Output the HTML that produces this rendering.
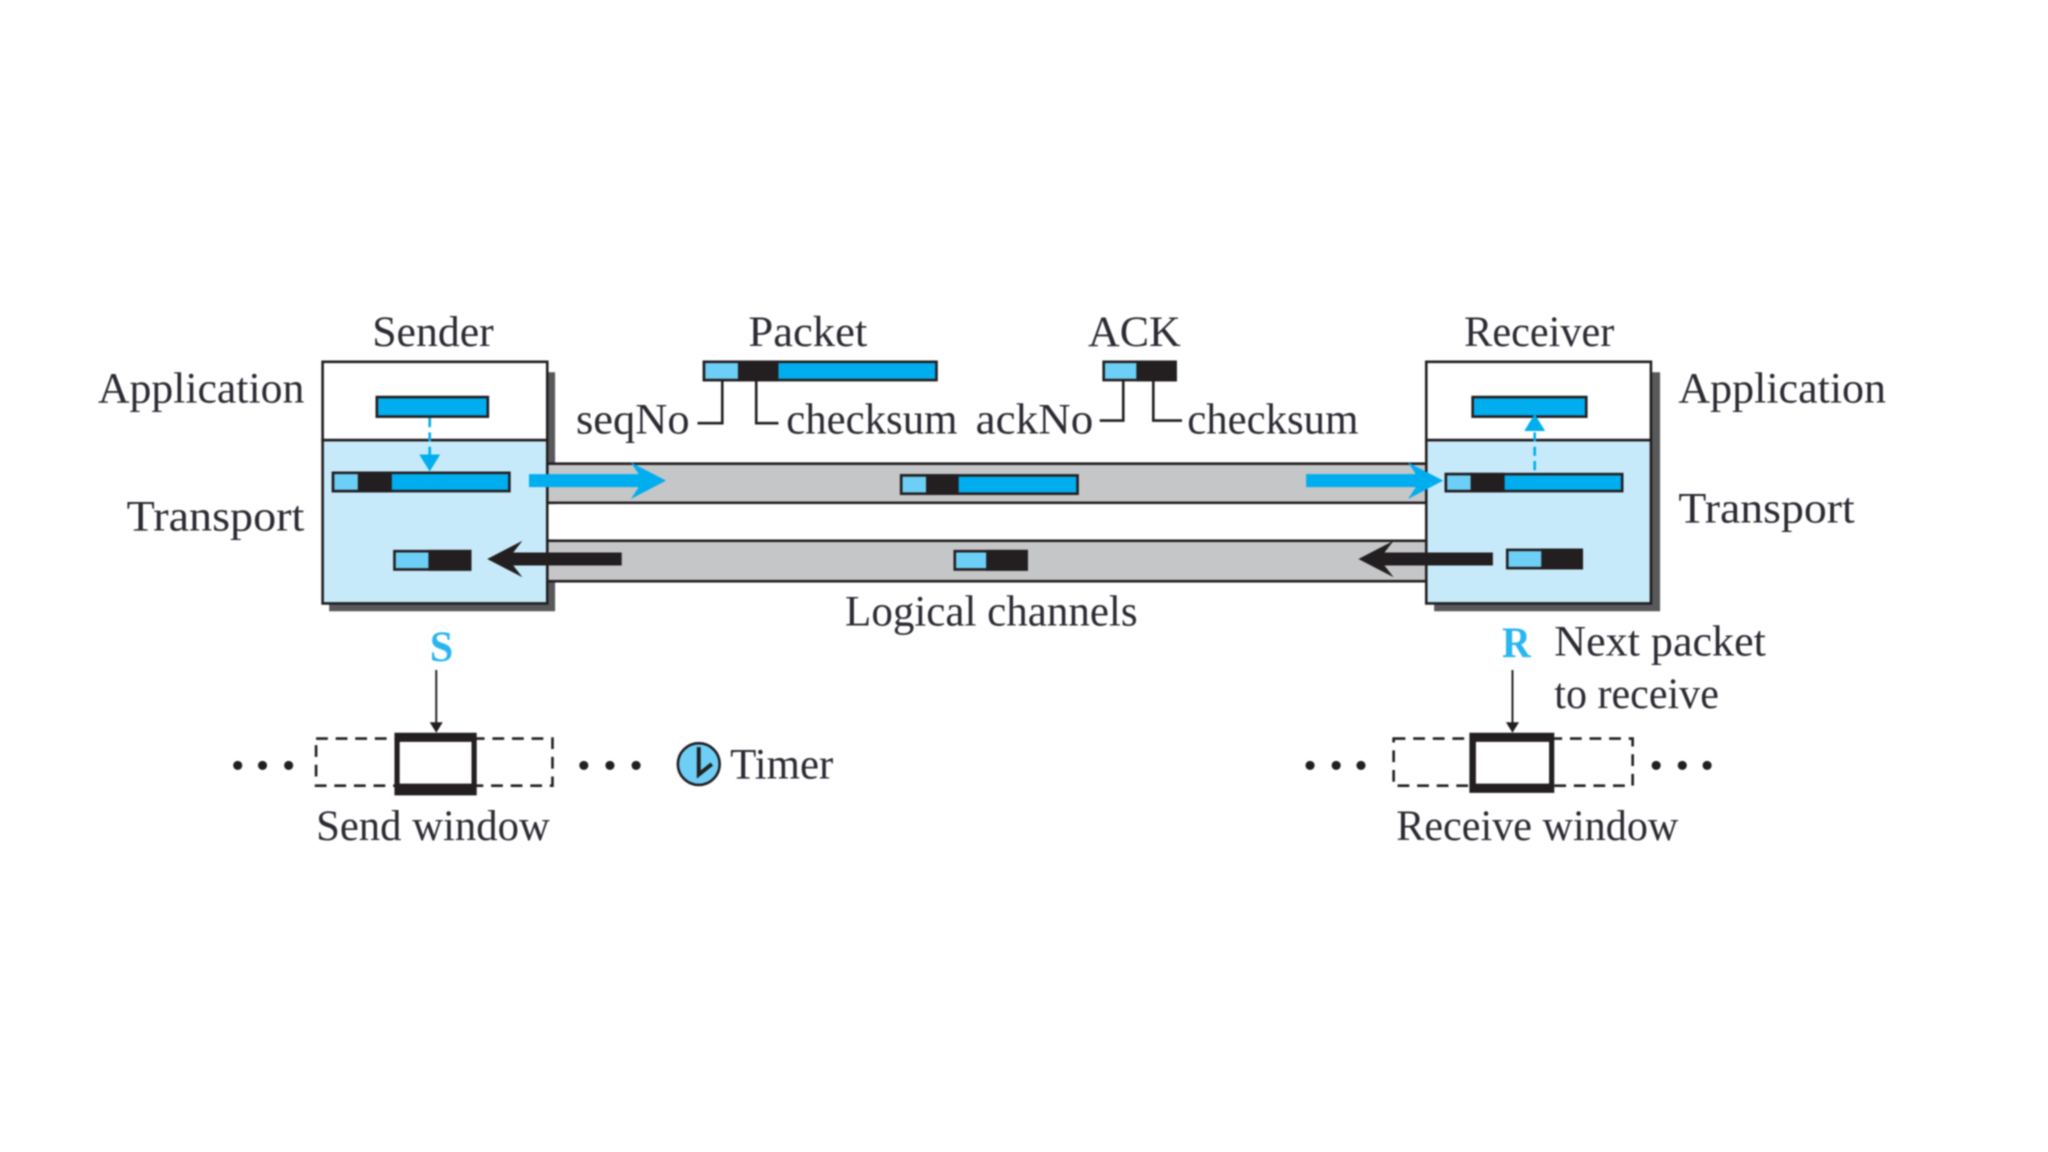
<!DOCTYPE html>
<html><head><meta charset="utf-8"><style>
html,body{margin:0;padding:0;background:#fff;width:2048px;height:1152px;overflow:hidden}
svg{display:block;filter:blur(.8px)}
text{font-family:"Liberation Serif",serif;font-size:33px;fill:#2b2b33}
</style></head><body>
<svg width="2048" height="1152" viewBox="0 0 1568 882" xmlns="http://www.w3.org/2000/svg">
<defs>
<g id="ba"><path d="M0 -5H84L78 -14L105 0L78 14L84 5H0Z" fill="#00aeef"/></g>
<g id="ka"><path d="M103 -5H20L27 -14L0 0L27 14L20 5H103Z" fill="#231f20"/></g>
</defs>
<!-- shadows -->
<rect x="252" y="285" width="173" height="183" fill="#58595b"/>
<rect x="1098" y="285" width="173" height="183" fill="#58595b"/>
<!-- channels -->
<rect x="419" y="355" width="673" height="30" fill="#c4c6c8" stroke="#231f20" stroke-width="2"/>
<rect x="419" y="414" width="673" height="31" fill="#c4c6c8" stroke="#231f20" stroke-width="2"/>
<rect x="419" y="386" width="673" height="27" fill="#fff"/>
<!-- sender -->
<rect x="247" y="277" width="172" height="60" fill="#fff" stroke="#231f20" stroke-width="2"/>
<rect x="247" y="337" width="172" height="125" fill="#c7eafb" stroke="#231f20" stroke-width="2"/>
<!-- receiver -->
<rect x="1092" y="277" width="172" height="60" fill="#fff" stroke="#231f20" stroke-width="2"/>
<rect x="1092" y="337" width="172" height="125" fill="#c7eafb" stroke="#231f20" stroke-width="2"/>
<!-- app bars -->
<rect x="288.5" y="304" width="85" height="15" fill="#00aeef" stroke="#231f20" stroke-width="2"/>
<rect x="1127.5" y="304" width="87" height="15" fill="#00aeef" stroke="#231f20" stroke-width="2"/>
<!-- packets -->
<g stroke="#231f20" stroke-width="2">
<rect x="255" y="362" width="135" height="14" fill="#00aeef"/><rect x="255" y="362" width="20" height="14" fill="#6dcff6"/><rect x="275" y="362" width="24" height="14" fill="#231f20"/>
<rect x="690" y="364" width="135" height="14" fill="#00aeef"/><rect x="690" y="364" width="20" height="14" fill="#6dcff6"/><rect x="710" y="364" width="23" height="14" fill="#231f20"/>
<rect x="1107" y="363" width="135" height="13" fill="#00aeef"/><rect x="1107" y="363" width="20" height="13" fill="#6dcff6"/><rect x="1127" y="363" width="24" height="13" fill="#231f20"/>
<rect x="539" y="277" width="178" height="14" fill="#00aeef"/><rect x="539" y="277" width="27" height="14" fill="#6dcff6"/><rect x="566" y="277" width="29" height="14" fill="#231f20"/>
<rect x="845" y="277" width="55" height="14" fill="#6dcff6"/><rect x="871" y="277" width="29" height="14" fill="#231f20"/>
<rect x="302" y="422" width="58" height="14" fill="#6dcff6"/><rect x="329" y="422" width="31" height="14" fill="#231f20"/>
<rect x="731" y="422" width="55" height="14" fill="#6dcff6"/><rect x="756" y="422" width="30" height="14" fill="#231f20"/>
<rect x="1154" y="421" width="57" height="14" fill="#6dcff6"/><rect x="1181" y="421" width="30" height="14" fill="#231f20"/>
</g>
<!-- dashed -->
<path d="M329 320V348" stroke="#00aeef" stroke-width="2" stroke-dasharray="7 4" fill="none"/>
<path d="M321 348L337 348L329 361Z" fill="#00aeef"/>
<path d="M1175 360V331" stroke="#00aeef" stroke-width="2" stroke-dasharray="7 4" fill="none"/>
<path d="M1167 330L1183 330L1175 317Z" fill="#00aeef"/>
<!-- arrows -->
<use href="#ba" x="405" y="368"/>
<use href="#ba" x="1000" y="368"/>
<use href="#ka" x="373" y="428"/>
<use href="#ka" x="1040" y="428"/>
<!-- connectors -->
<path d="M553 291V324H534M579 291V324H596M860 291V322H842M883 291V322H905" fill="none" stroke="#231f20" stroke-width="2"/>
<!-- windows -->
<rect x="242" y="565.500" width="181" height="36" fill="none" stroke="#231f20" stroke-width="2" stroke-dasharray="9 6"/>
<rect x="1067" y="565.500" width="183" height="36" fill="none" stroke="#231f20" stroke-width="2" stroke-dasharray="9 6"/>
<path d="M302 561H365V609H302ZM306 568V600H361V568Z" fill="#231f20" fill-rule="evenodd"/>
<path d="M1125 561H1190V607H1125ZM1130 568V600H1186V568Z" fill="#231f20" fill-rule="evenodd"/>
<path d="M334 513V555" stroke="#231f20" stroke-width="1.500"/><path d="M329 553H339L334 561Z" fill="#231f20"/>
<path d="M1158 513V555" stroke="#231f20" stroke-width="1.500"/><path d="M1153 553H1163L1158 561Z" fill="#231f20"/>
<g fill="#231f20">
<circle cx="182" cy="586" r="3.500"/><circle cx="201" cy="586" r="3.500"/><circle cx="221" cy="586" r="3.500"/>
<circle cx="447" cy="586" r="3.500"/><circle cx="467" cy="586" r="3.500"/><circle cx="487" cy="586" r="3.500"/>
<circle cx="1003" cy="586" r="3.500"/><circle cx="1023" cy="586" r="3.500"/><circle cx="1042" cy="586" r="3.500"/>
<circle cx="1268" cy="586" r="3.500"/><circle cx="1288" cy="586" r="3.500"/><circle cx="1307" cy="586" r="3.500"/>
</g>
<circle cx="535" cy="585" r="16" fill="#6dcff6" stroke="#231f20" stroke-width="2"/>
<path d="M535 572V593L545 585" fill="none" stroke="#231f20" stroke-width="3"/>
<!-- text -->
<text x="285" y="265" textLength="93" lengthAdjust="spacingAndGlyphs">Sender</text>
<text x="573" y="265" textLength="91" lengthAdjust="spacingAndGlyphs">Packet</text>
<text x="833" y="265" textLength="71" lengthAdjust="spacingAndGlyphs">ACK</text>
<text x="1121" y="265" textLength="115" lengthAdjust="spacingAndGlyphs">Receiver</text>
<text x="75" y="308" textLength="158" lengthAdjust="spacingAndGlyphs">Application</text>
<text x="1285" y="308" textLength="159" lengthAdjust="spacingAndGlyphs">Application</text>
<text x="97" y="406" textLength="136" lengthAdjust="spacingAndGlyphs">Transport</text>
<text x="1285" y="400" textLength="135" lengthAdjust="spacingAndGlyphs">Transport</text>
<text x="441" y="332" textLength="87" lengthAdjust="spacingAndGlyphs">seqNo</text>
<text x="602" y="332" textLength="131" lengthAdjust="spacingAndGlyphs">checksum</text>
<text x="747" y="332" textLength="90" lengthAdjust="spacingAndGlyphs">ackNo</text>
<text x="909" y="332" textLength="131" lengthAdjust="spacingAndGlyphs">checksum</text>
<text x="647" y="479" textLength="224" lengthAdjust="spacingAndGlyphs">Logical channels</text>
<text x="329" y="506" textLength="18" lengthAdjust="spacingAndGlyphs" style="fill:#29b6f0;font-weight:bold">S</text>
<text x="1150" y="503" textLength="22" lengthAdjust="spacingAndGlyphs" style="fill:#29b6f0;font-weight:bold">R</text>
<text x="1190" y="502" textLength="162" lengthAdjust="spacingAndGlyphs">Next packet</text>
<text x="1190" y="542" textLength="126" lengthAdjust="spacingAndGlyphs">to receive</text>
<text x="559" y="596" textLength="79" lengthAdjust="spacingAndGlyphs">Timer</text>
<text x="242" y="643" textLength="179" lengthAdjust="spacingAndGlyphs">Send window</text>
<text x="1069" y="643" textLength="216" lengthAdjust="spacingAndGlyphs">Receive window</text>
</svg>
</body></html>
